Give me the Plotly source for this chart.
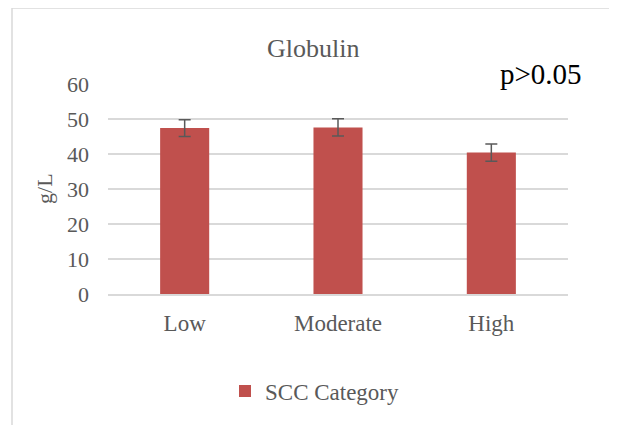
import plotly.graph_objects as go

categories = ["Low", "Moderate", "High"]
values = [47.4, 47.6, 40.4]
errors = [2.4, 2.45, 2.45]
series_name = "SCC Category"
y_ticks = [0, 10, 20, 30, 40, 50, 60]

FONT = "Liberation Serif, Times New Roman, serif"
GRAY = "#595959"

fig = go.Figure()
fig.add_trace(go.Bar(
    x=categories, y=values, name=series_name,
    marker=dict(color="#C0504D", line=dict(width=0)),
    error_y=dict(type="data", array=errors, visible=True,
                 color=GRAY, thickness=1.5, width=6),
    showlegend=True,
))

fig.update_layout(
    width=617, height=425,
    margin=dict(l=100, r=57, t=76, b=139),
    paper_bgcolor="white", plot_bgcolor="white",
    bargap=0.68,
    font=dict(family=FONT, color=GRAY, size=22),
    showlegend=True,
    legend=dict(orientation="h", x=0.45, xanchor="center", y=-0.462, yanchor="middle",
                font=dict(family=FONT, size=23, color=GRAY), bgcolor="rgba(0,0,0,0)",
                itemwidth=30),
    xaxis=dict(showgrid=False, showline=True, linecolor="#D9D9D9", linewidth=1.5,
               ticks="", tickfont=dict(family=FONT, size=23, color=GRAY),
               ticklabelstandoff=8),
    yaxis=dict(range=[0, 60], tickvals=y_ticks, showgrid=True, gridcolor="#D9D9D9",
               gridwidth=1.5, zeroline=False, showline=False, ticks="",
               tickfont=dict(family=FONT, size=22, color=GRAY),
               ticklabelstandoff=18),
    annotations=[
        dict(text="Globulin", x=0.446, y=1.171, xref="paper", yref="paper",
             showarrow=False, xanchor="center", yanchor="middle",
             font=dict(family=FONT, size=26, color=GRAY)),
        dict(text="p>0.05", x=0.848, y=1.048, xref="paper", yref="paper",
             showarrow=False, xanchor="left", yanchor="middle",
             font=dict(family=FONT, size=29, color="black")),
        dict(text="g/L", x=-0.137, y=0.505, xref="paper", yref="paper",
             showarrow=False, xanchor="center", yanchor="middle", textangle=-90,
             font=dict(family=FONT, size=22, color=GRAY)),
    ],
    shapes=[
        dict(type="rect", xref="paper", yref="paper",
             x0=-0.2087, y0=-0.75, x1=1.2, y1=1.362,
             line=dict(color="#D9D9D9", width=1.5), fillcolor="rgba(0,0,0,0)", layer="below"),
    ],
)

fig.write_html("out.html")
